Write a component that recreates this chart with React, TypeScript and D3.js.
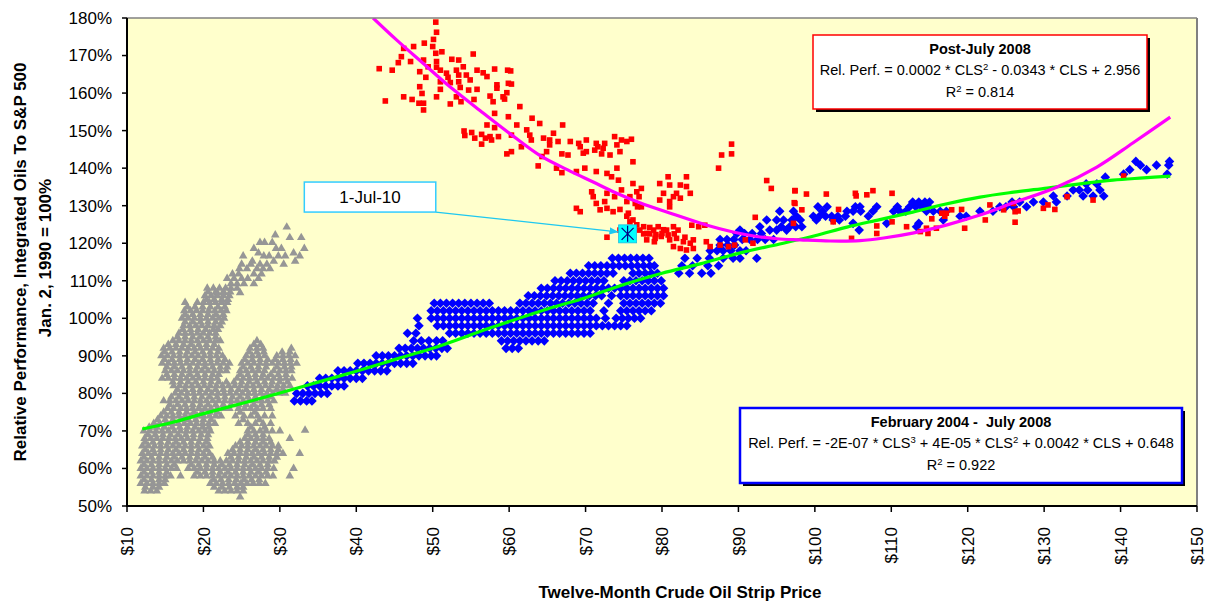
import React from "react";
import * as d3 from "d3";

const W = 1207;
const H = 602;
const M = { left: 127, right: 1197, top: 18, bottom: 506 };

const xTicks = [10, 20, 30, 40, 50, 60, 70, 80, 90, 100, 110, 120, 130, 140, 150];
const yTicks = [50, 60, 70, 80, 90, 100, 110, 120, 130, 140, 150, 160, 170, 180];

// pre-2004 cloud, rows of [rel. perf %, strip price, strip price, ...]
const grayRows: number[][] = [
  [124.3, 30.9],
  [122.2, 29.4],
  [121.5, 31.3, 32.8],
  [120.2, 27.4, 28.0, 29.0],
  [118.6, 26.6, 29.5, 30.2, 33.2],
  [117.4, 27.2, 31.8],
  [116.6, 25.2, 27.9, 28.6, 29.8, 30.7, 32.6],
  [115.2, 26.4, 29.2, 32.0],
  [114.4, 25.0, 26.2, 27.4, 28.3, 30.5],
  [113.2, 24.7, 25.7, 27.0, 27.8, 28.7],
  [111.8, 23.8, 24.6, 26.6, 27.6],
  [110.6, 23.1, 24.0, 25.0, 25.8, 27.2],
  [109.2, 23.6, 24.4, 25.3, 26.6],
  [108.0, 20.5, 21.3, 22.1, 22.9, 23.6, 24.4],
  [107, 20.6, 21.6, 22.6, 23.5],
  [106.8, 21.8, 22.7, 24.8],
  [106.0, 20.2, 21.0, 21.8, 22.6, 23.4],
  [105, 20.4, 21.4, 22.4, 23.2],
  [104.2, 17.6, 19.2, 20.0, 20.8, 21.6, 22.4, 23.1],
  [103, 17.9, 18.9, 19.9, 20.9, 21.9, 22.8],
  [102, 17.5, 18.3, 19.1, 19.9, 20.7, 21.5, 22.3, 23.0],
  [101, 17.6, 18.6, 19.6, 20.6, 21.6, 22.6],
  [100, 17.2, 18.0, 18.8, 19.6, 20.4, 21.2, 22.0, 22.7],
  [99, 17.6, 18.6, 19.6, 20.6, 21.6, 22.4],
  [98, 17.4, 18.2, 19.0, 19.8, 20.6, 21.4, 22.2],
  [97, 17.3, 18.3, 19.3, 20.3, 21.3, 21.9],
  [96, 16.8, 17.6, 18.4, 19.2, 20.0, 20.8, 21.6],
  [95, 16.6, 17.6, 18.6, 19.6, 20.6, 21.6],
  [94, 16.0, 16.8, 17.6, 18.4, 19.2, 20.0, 20.8, 21.6, 22.2, 27.0],
  [93, 15.4, 16.4, 17.4, 18.4, 19.4, 20.4, 21.4, 26.6, 27.5],
  [92, 14.8, 15.6, 16.4, 17.2, 18.0, 18.8, 19.6, 20.4, 21.2, 22.0, 26.1, 27.0, 27.8, 31.5],
  [91, 14.9, 15.9, 16.9, 17.9, 18.9, 19.9, 20.9, 21.9, 26.0, 27.0, 27.9, 30.3, 31.3],
  [90, 14.5, 15.3, 16.1, 16.9, 17.7, 18.5, 19.3, 20.1, 20.9, 21.7, 22.5, 25.6, 26.4, 27.2, 28.0, 29.6, 30.4, 31.2, 32.0],
  [89, 14.9, 15.9, 16.9, 17.9, 18.9, 19.9, 20.9, 21.9, 22.8, 25.4, 26.4, 27.4, 28.4, 29.4, 30.4, 31.4],
  [88, 14.6, 15.4, 16.2, 17.0, 17.8, 18.6, 19.4, 20.2, 21.0, 21.8, 22.6, 23.4, 25.0, 25.8, 26.6, 27.4, 28.2, 29.0, 29.8, 30.6, 31.4, 32.2],
  [87, 15.2, 16.2, 17.2, 18.2, 19.2, 20.2, 21.2, 22.2, 23.1, 25.2, 26.2, 27.2, 28.2, 29.6, 30.6, 31.5],
  [86, 15.0, 15.8, 16.6, 17.4, 18.2, 19.0, 19.8, 20.6, 21.4, 22.2, 23.0, 24.8, 25.6, 26.4, 27.2, 28.0, 29.2, 30.0, 30.8, 31.5],
  [85, 15.2, 16.2, 17.2, 18.2, 19.2, 20.2, 21.2, 22.0, 24.8, 25.8, 26.8, 27.8, 28.8, 29.8, 30.8],
  [84, 14.6, 15.4, 16.2, 17.0, 17.8, 18.6, 19.4, 20.2, 21.0, 21.8, 24.4, 25.2, 26.0, 26.8, 27.6, 28.4, 29.2, 30.0, 30.8, 31.6],
  [83, 16.0, 17.0, 18.0, 19.0, 20.0, 21.0, 22.0, 23.0, 24.0, 25.0, 26.0, 27.0, 28.0, 29.0, 30.0, 31.0],
  [82, 16.1, 16.9, 17.7, 18.5, 19.3, 20.1, 20.9, 21.7, 22.5, 23.3, 24.1, 24.9, 25.7, 26.5, 27.3, 28.1, 28.9, 29.7, 30.5, 31.3],
  [81, 16.6, 17.6, 18.6, 19.6, 20.6, 21.6, 22.6, 23.6, 24.6, 25.6, 26.6, 27.6, 28.6, 29.6, 30.4],
  [80, 16.3, 17.1, 17.9, 18.7, 19.5, 20.3, 21.1, 21.9, 22.7, 23.5, 24.3, 25.1, 25.9, 26.7, 27.5, 28.3, 29.1, 29.9, 30.7],
  [79, 15.8, 16.8, 17.8, 18.8, 19.8, 20.8, 21.8, 22.8, 23.8, 24.8, 25.8, 26.8, 27.8, 28.8],
  [78, 14.8, 15.6, 16.4, 17.2, 18.0, 18.8, 19.6, 20.4, 21.2, 22.0, 22.8, 23.6, 24.4, 25.2, 26.0, 26.8, 27.6, 28.4, 29.2],
  [77, 15.6, 16.6, 17.6, 18.6, 19.6, 20.6, 21.6, 22.6, 23.6, 24.6, 25.6, 26.6, 27.6, 28.6],
  [76, 15.3, 16.1, 17.0, 17.8, 18.6, 19.4, 20.2, 21.0, 21.8, 22.6, 23.4, 24.6, 25.4, 26.2, 27.0, 27.8, 28.8],
  [75, 14.8, 15.8, 16.8, 17.8, 18.8, 19.8, 20.8, 21.8, 24.8, 26.7],
  [74, 14.4, 15.2, 16.0, 16.8, 17.6, 18.4, 19.2, 20.0, 20.8, 21.6, 22.3, 24.2, 25.3, 26.2, 27.1, 28.0, 29.0],
  [73, 14.0, 15.0, 16.0, 17.0, 18.0, 19.0, 20.0, 21.0, 25.2, 27.3],
  [72, 13.5, 14.3, 15.1, 15.9, 16.7, 17.5, 18.3, 19.1, 19.9, 20.7, 21.5, 24.6, 25.8, 26.8, 27.8, 28.8],
  [71, 12.9, 13.9, 14.9, 15.9, 16.9, 17.9, 18.9, 19.9, 20.7, 26.2, 28.0],
  [70.2, 33.3],
  [70, 12.2, 13.0, 13.8, 14.6, 15.4, 16.2, 17.0, 17.8, 18.6, 19.4, 20.2, 20.9, 25.8, 26.6, 27.4, 28.2, 29.0, 30.0],
  [69, 12.7, 13.7, 14.7, 15.7, 16.7, 17.7, 18.7, 19.7, 20.6, 25.8, 26.8, 27.8],
  [68, 12.3, 13.1, 13.9, 14.7, 15.5, 16.3, 17.1, 17.9, 18.7, 19.6, 20.5, 25.4, 26.2, 27.0, 27.8, 28.6, 31.3],
  [67, 12.4, 13.4, 14.4, 15.4, 16.4, 17.4, 18.4, 19.4, 20.4, 24.8, 25.8, 26.8, 27.8, 28.8],
  [66, 12.0, 12.8, 13.6, 14.4, 15.2, 16.0, 16.8, 17.6, 18.4, 19.2, 20.0, 20.8, 24.2, 25.0, 25.8, 26.6, 27.4, 28.2, 29.0, 29.8],
  [65, 12.4, 13.4, 14.4, 15.4, 16.4, 17.4, 18.4, 19.4, 20.4, 23.8, 24.8, 25.8, 26.8, 27.8, 28.8, 29.8],
  [64, 12.0, 12.8, 13.6, 14.4, 15.2, 16.0, 16.8, 17.6, 18.4, 19.2, 20.0, 20.8, 23.2, 24.0, 24.8, 25.6, 26.4, 27.2, 28.0, 28.8, 29.6, 30.4, 32.6],
  [63, 12.2, 13.2, 14.2, 15.2, 16.2, 17.2, 18.2, 19.2, 20.2, 21.2, 23.6, 24.6, 25.6, 26.6, 27.6, 28.6, 29.6],
  [62, 11.8, 12.6, 13.4, 14.2, 15.0, 15.8, 16.6, 17.4, 18.2, 19.0, 19.8, 20.6, 21.4, 22.2, 23.0, 23.8, 24.6, 25.4, 26.2, 27.0, 27.8, 28.6, 29.3],
  [61, 12.2, 13.2, 14.2, 15.2, 16.2, 18.4, 19.4, 20.4, 21.4, 22.4, 23.4, 24.4, 25.4, 26.4, 27.4, 28.4],
  [60, 11.8, 12.6, 13.4, 14.2, 15.0, 15.8, 16.5, 18.0, 18.8, 19.6, 20.4, 21.2, 22.0, 22.8, 23.6, 24.4, 25.2, 26.0, 26.8, 27.6, 28.4, 29.2, 31.8],
  [59, 12.2, 13.2, 14.2, 15.2, 19.2, 20.2, 21.2, 22.2, 23.2, 24.2, 25.2, 26.2, 27.2, 28.2],
  [58, 11.8, 12.6, 13.4, 14.2, 15.0, 15.7, 17.0, 18.8, 19.6, 20.4, 21.2, 22.0, 22.8, 23.6, 24.4, 25.2, 26.0, 26.8, 27.6, 28.4, 29.1, 31.3],
  [57, 12.2, 13.2, 14.2, 15.0, 21.3, 22.3, 23.3, 24.3, 25.3, 26.3, 27.3],
  [56, 11.8, 12.6, 13.4, 14.2, 14.9, 20.9, 21.7, 22.5, 23.3, 24.1, 24.9, 25.7, 26.5, 27.3, 28.1],
  [55, 12.4, 13.4, 14.2, 21.4, 22.4, 23.4, 24.4, 25.2],
  [54, 12.3, 13.1, 13.9, 22.0, 22.8, 23.6, 24.4, 25.2],
  [52.4, 24.8],
];

// February 2004 - July 2008
const blueRows: number[][] = [
  [78, 31.9, 32.7, 33.5, 34.2],
  [80, 32.2, 33.0, 33.8, 34.6, 35.4, 36.2],
  [82, 33.6, 34.4, 35.2, 36.0, 36.8, 37.6, 38.4],
  [84, 35.2, 36.0, 36.8, 37.6, 38.4, 39.2, 40.0, 40.8],
  [86, 37.6, 38.4, 39.2, 40.0, 40.8, 41.6, 42.4, 43.2, 44.0],
  [88, 40.2, 41.0, 41.8, 42.6, 43.4, 44.2, 45.0, 45.8, 46.6, 47.4],
  [90, 42.6, 43.4, 44.2, 45.0, 45.8, 46.6, 47.4, 48.2, 49.0, 49.8, 50.5],
  [92, 45.6, 46.4, 47.2, 48.0, 48.8, 49.6, 50.4, 51.2, 51.9, 59.6, 60.4, 61.2],
  [94, 47.5, 48.5, 49.5, 50.5, 51.3, 59.0, 59.8, 60.6, 61.4, 62.2, 63.0, 63.8, 64.6],
  [96, 46.7, 47.8, 52.2, 53.0, 53.8, 54.6, 55.4, 56.2, 57.0, 57.8, 58.6, 59.4, 60.2, 61.0, 61.8, 62.6, 63.4, 64.2, 65.0, 65.8, 66.6, 67.4, 68.2, 69.0, 69.8, 70.6],
  [98, 48.2, 50.6, 51.4, 52.2, 53.0, 53.8, 54.6, 55.4, 56.2, 57.0, 57.8, 58.6, 59.4, 60.2, 61.0, 61.8, 62.6, 63.4, 64.2, 65.0, 65.8, 66.6, 67.4, 68.2, 69.0, 69.8, 70.6, 71.4, 72.2, 73.0, 73.8, 74.6, 75.4],
  [100, 48.0, 49.8, 50.6, 51.4, 52.2, 53.0, 53.8, 54.6, 55.4, 56.2, 57.0, 57.8, 58.6, 59.4, 60.2, 61.0, 61.8, 62.6, 63.4, 64.2, 65.0, 65.8, 66.6, 67.4, 68.2, 69.0, 69.8, 70.6, 71.4, 72.6, 74.0, 74.8, 75.6, 76.4, 77.2],
  [102, 49.8, 50.6, 51.4, 52.2, 53.0, 53.8, 54.6, 55.4, 56.2, 57.0, 57.8, 58.6, 59.4, 60.2, 61.0, 61.8, 62.6, 63.4, 64.2, 65.0, 65.8, 66.6, 67.4, 68.2, 69.0, 69.8, 70.6, 72.4, 74.6, 75.4, 76.2, 77.0, 77.8, 78.6],
  [104, 50.2, 51.0, 51.8, 52.6, 53.4, 54.2, 55.0, 55.8, 56.6, 57.4, 61.4, 62.2, 63.0, 63.8, 64.6, 65.4, 66.2, 67.0, 67.8, 68.6, 69.4, 70.2, 71.0, 73.0, 75.0, 75.8, 76.6, 77.4, 78.2, 79.0, 79.8],
  [106, 62.5, 63.3, 64.1, 64.9, 65.7, 66.5, 67.3, 68.1, 68.9, 69.7, 70.5, 71.3, 72.1, 73.4, 74.6, 75.4, 76.2, 77.0, 77.8, 78.6, 79.4, 80.2],
  [108, 64.2, 65.0, 65.8, 66.6, 67.4, 68.2, 69.0, 69.8, 70.6, 71.4, 72.2, 73.0, 73.8, 74.6, 75.4, 76.2, 77.0, 77.8, 78.6, 79.4, 80.2],
  [110, 66.0, 66.8, 67.6, 68.4, 69.2, 70.0, 70.8, 71.6, 72.4, 75.0, 75.8, 76.6, 77.4, 78.2, 79.0, 79.9],
  [112, 68.0, 68.8, 69.6, 70.4, 71.2, 72.0, 72.8, 73.6, 76.2, 77.0, 77.8, 78.6, 79.4, 82.2, 83.6, 85.2, 86.4],
  [114, 70.4, 71.2, 72.0, 72.8, 73.6, 74.4, 75.2, 76.0, 76.8, 77.6, 78.4, 79.0, 82.6, 84.0, 86.0, 87.4],
  [116, 73.5, 74.3, 75.1, 75.9, 76.7, 77.5, 78.3, 83.0, 84.6, 86.2, 88.0, 89.3, 90.2, 92.4],
  [118, 86.3, 87.2, 88.0, 89.0, 90.2, 91.0],
  [119.5, 87.6, 88.6, 89.5],
  [121, 87.6, 88.5, 89.4, 90.5, 91.5, 92.5, 93.5, 94.6],
  [122.6, 89.8, 90.8, 91.8, 93.0],
  [123.5, 90.2, 94.1, 95.0, 96.3, 105.8],
  [124.4, 92.8, 95.6, 96.7, 97.5, 98.3, 113.3],
  [125.3, 105.0, 109.4, 113.6],
  [126.2, 93.7, 95.0, 95.9, 97.0, 98.1, 100.2, 102.4, 103.2, 116.8],
  [127.2, 97.6, 99.8, 100.6, 101.4, 102.2, 103.0, 104.0, 107.0, 119.0, 119.8],
  [128.5, 95.4, 97.2, 101.0, 104.2, 105.0, 106.0, 107.6, 110.3, 111.1, 111.9, 114.6, 115.5, 116.4, 117.2, 121.6, 123.3],
  [129.7, 100.4, 101.6, 105.3, 105.9, 108.1, 110.8, 112.4, 113.2, 114.0, 114.8, 124.2, 125.0, 126.0, 127.7],
  [131, 112.8, 113.6, 114.4, 115.0, 125.8, 126.8, 128.6, 129.9, 131.6],
  [132.6, 131.2, 133.0, 135.1, 136.4, 137.8],
  [134.2, 133.8, 134.6, 135.7, 137.3],
  [135.8, 135.5, 136.9],
  [137.6, 138.0],
  [138.4, 140.4, 146.1],
  [139.6, 141.2, 143.4],
  [140.8, 142.6, 144.7, 146.3],
  [141.8, 142.0, 146.4],
];

// post-July 2008, [strip price, rel. perf %]
const redPts: number[][] = [
  [50.4, 178.9], [50.5, 176.2], [50.1, 174.3], [48.9, 173.3], [50.0, 172.4], [47.5, 172.4], [46.2, 171.9],
  [51.2, 171.0], [50.4, 170.6], [55.3, 170.4], [45.9, 169.7], [45.5, 168.1], [47.1, 168.4], [48.8, 168.8],
  [50.5, 168.4], [52.5, 169.0], [53.4, 168.8], [43.0, 166.5], [44.7, 166.1], [49.4, 167.0], [50.5, 166.9],
  [51.0, 166.1], [53.1, 166.1], [54.0, 167.0], [55.8, 166.1], [56.6, 165.4], [58.1, 166.4], [59.8, 166.1],
  [60.2, 165.9], [48.3, 165.7], [51.8, 165.3], [53.4, 164.8], [54.4, 164.8], [57.1, 164.4], [49.1, 164.2],
  [52.0, 164.2], [54.9, 163.5], [59.9, 162.6], [60.3, 162.4], [51.0, 163.0], [52.3, 162.8], [53.4, 163.0],
  [48.3, 161.7], [58.4, 162.2], [58.4, 161.3], [51.0, 161.0], [53.6, 161.5], [55.8, 161.0], [59.7, 160.1],
  [54.7, 160.8], [48.6, 159.9], [46.2, 159.0], [50.5, 159.0], [53.1, 159.0], [57.5, 159.2], [59.2, 159.0],
  [43.8, 157.9], [47.3, 158.3], [48.2, 157.3], [48.8, 157.3], [52.3, 157.1], [53.7, 157.7], [55.4, 158.3],
  [57.9, 157.7], [59.4, 158.4], [48.8, 155.5], [61.4, 156.4], [58.1, 154.6], [59.9, 153.7], [63.0, 153.3],
  [57.1, 151.5], [58.1, 150.8], [61.0, 151.5], [64.0, 151.9], [67.0, 151.5], [54.1, 149.9], [55.1, 149.5],
  [56.4, 149.0], [57.5, 148.4], [58.6, 148.4], [60.3, 148.8], [62.3, 150.2], [65.8, 149.3], [54.2, 148.7],
  [55.5, 148.0], [56.9, 148.0], [57.7, 147.5], [56.4, 146.4], [62.7, 148.8], [62.9, 147.5], [64.5, 148.0],
  [65.3, 147.5], [66.4, 147.1], [68.0, 147.1], [69.1, 146.6], [70.1, 147.5], [71.4, 146.6], [72.5, 146.6],
  [73.8, 148.4], [74.7, 147.5], [76.0, 147.7], [61.6, 145.7], [65.3, 146.2], [69.3, 145.7], [71.6, 145.7],
  [72.3, 145.3], [74.1, 146.2], [75.4, 147.1], [60.3, 144.4], [59.7, 143.8], [64.3, 143.1], [66.9, 143.8],
  [67.7, 143.5], [70.1, 144.4], [71.2, 144.8], [72.1, 143.8], [73.2, 143.5], [74.5, 144.4], [64.9, 144.4],
  [69.7, 144.0], [63.8, 140.6], [66.2, 140.0], [66.9, 138.8], [68.8, 139.1], [69.9, 140.0], [71.4, 139.1],
  [72.8, 138.6], [73.4, 137.7], [74.1, 140.0], [76.2, 141.7], [74.3, 136.8], [70.8, 133.7], [71.0, 132.4],
  [72.8, 133.3], [73.8, 132.4], [72.5, 131.1], [71.4, 130.6], [74.7, 134.2], [76.2, 135.9], [77.3, 134.6],
  [76.7, 133.7], [75.8, 132.4], [75.4, 131.1], [76.5, 130.6], [77.0, 132.4], [68.8, 129.3], [69.3, 128.4],
  [71.9, 128.9], [72.8, 129.3], [73.6, 128.4], [74.5, 129.0], [75.6, 128.0], [76.8, 129.7], [79.7, 135.9],
  [80.8, 137.7], [81.0, 135.5], [82.4, 135.5], [83.2, 137.7], [83.2, 135.1], [83.7, 133.3], [80.2, 133.3],
  [81.5, 132.4], [82.4, 132.0], [79.7, 131.5], [81.0, 131.1], [81.9, 133.3], [81.0, 129.7], [77.3, 129.7],
  [87.4, 140.0], [87.8, 143.5], [89.1, 143.8], [89.1, 146.4], [93.7, 136.7], [94.3, 134.6], [97.4, 134.0],
  [97.4, 130.6], [92.2, 126.9], [97.2, 125.3], [74.5, 123.5], [72.8, 121.6], [75.8, 125.7], [76.7, 124.9],
  [77.1, 123.5], [78.0, 122.6], [78.9, 123.5], [79.5, 124.4], [80.6, 123.5], [81.5, 124.4], [82.1, 123.5],
  [78.0, 120.9], [79.1, 121.3], [79.9, 121.8], [81.0, 120.9], [81.9, 121.3], [82.8, 120.4], [83.7, 120.0],
  [84.1, 120.9], [81.5, 119.1], [82.4, 118.6], [83.2, 118.2], [84.1, 118.6], [85.8, 120.4], [86.3, 119.1],
  [87.6, 119.5], [88.7, 119.1], [89.5, 119.5], [90.9, 120.9], [91.9, 120.0], [83.9, 124.8], [84.8, 124.4],
  [85.6, 124.8], [76.2, 126.2], [75.4, 127.2], [77.6, 122.5], [78.4, 122.5], [79.2, 122.3], [80.0, 122.6],
  [80.8, 122.2], [81.6, 122.5], [77.6, 124.4], [78.4, 124.2], [80.2, 123.6], [83.0, 121.6], [79.0, 120.4],
  [97.4, 134.0], [98.9, 133.1], [97.3, 130.8], [98.3, 128.9], [101.5, 133.1], [103.1, 129.0], [105.3, 133.3],
  [105.4, 132.6], [106.8, 132.9], [107.6, 134.0], [110.1, 133.3], [102.4, 125.7], [104.8, 121.3], [108.1, 124.6],
  [108.1, 122.6], [110.1, 125.7], [112.0, 124.4], [113.8, 123.1], [114.8, 122.6], [115.3, 126.5], [115.9, 124.0],
  [116.6, 128.0], [117.2, 128.0], [117.0, 127.2], [117.9, 128.9], [119.2, 129.0], [119.6, 124.0], [122.9, 130.2],
  [122.3, 126.2], [124.7, 128.9], [126.2, 128.4], [126.6, 128.6], [126.0, 130.6], [126.2, 125.6], [129.9, 129.3],
  [130.5, 130.2], [131.4, 129.0], [133.0, 132.4], [136.4, 131.5], [140.4, 137.9], [114.6, 124.0],
];

// fitted curves as drawn, [strip price, rel. perf %]
const postFit: number[][] = [
  [42.2, 180], [45.3, 174.1], [48.7, 168], [52.3, 161.6], [56.6, 154.7], [60.1, 149.2], [64, 143.4],
  [67.6, 139.6], [71, 136.3], [74, 133.4], [77.1, 130.8], [81.4, 127.8], [85.9, 124.8], [89.3, 123],
  [92.4, 121.8], [95, 121.2], [98.1, 120.9], [102, 120.6], [105.9, 120.7], [109, 121.4], [112.8, 122.7],
  [117.3, 124.9], [121.6, 127.5], [125.9, 130.7], [131.7, 135], [136.9, 140.3], [141.6, 146.7], [146.5, 153.6],
];
const preFit: number[][] = [
  [12, 70.5], [16, 72.3], [20, 74.6], [25, 77.3], [30, 80.1], [35, 83], [40, 85.9], [45, 89], [50, 92],
  [57.5, 97.4], [65, 102.5], [70, 105.5], [75, 109], [80, 112], [85, 114.5], [90, 117.3], [95.4, 119.8],
  [100, 122], [104.2, 124.3], [108.5, 126.3], [112.8, 128.3], [117, 130.4], [121.6, 132.3], [126, 133.6],
  [130.4, 134.7], [135, 135.9], [139, 136.8], [143, 137.4], [146.5, 137.9],
];

const markerPt = [75.5, 122.5];
const markerLabel = "1-Jul-10";

const FONT = "'Liberation Sans', Arial, Helvetica, sans-serif";

const x = d3.scaleLinear().domain([10, 150]).range([M.left, M.right]);
const y = d3.scaleLinear().domain([50, 180]).range([M.bottom, M.top]);

const rowsToPts = (rows: number[][]) =>
  rows.flatMap(([v, ...xs]) => xs.map((p) => [p, v]));

const triPath = d3.symbol(d3.symbolTriangle, 32)() as string;
const diaPath = "M0,-4.8L4.8,0L0,4.8L-4.8,0Z";

const line = d3
  .line<number[]>()
  .x((d) => x(d[0]))
  .y((d) => y(d[1]))
  .curve(d3.curveCatmullRom);

function FitBox(props: {
  x0: number; y0: number; w: number; h: number; stroke: string; sw: number;
  title: string; children: React.ReactNode; r2: string;
}) {
  const { x0, y0, w, h, stroke, sw, title, r2 } = props;
  const cx = x0 + w / 2;
  return (
    <g fontFamily={FONT} fontSize={14.5} textAnchor="middle">
      <rect x={x0 + 3} y={y0 + 3} width={w} height={h} fill="#000" />
      <rect x={x0} y={y0} width={w} height={h} fill="#fff" stroke={stroke} strokeWidth={sw} />
      <text x={cx} y={y0 + 19} fontWeight="bold" style={{ whiteSpace: "pre" }}>{title}</text>
      <text x={cx} y={y0 + 40}>{props.children}</text>
      <text x={cx} y={y0 + 62}>
        R<tspan dy={-5} fontSize={9.5}>2</tspan>
        <tspan dy={5}>{" = " + r2}</tspan>
      </text>
    </g>
  );
}

export default function App() {
  const gray = rowsToPts(grayRows);
  const blue = rowsToPts(blueRows);
  const mx = x(markerPt[0]);
  const my = y(markerPt[1]);

  // callout box placed in data space
  const bx0 = x(33.2), bx1 = x(50.4), by0 = y(136.3), by1 = y(128.3);

  return (
    <svg
      width={W}
      height={H}
      style={{ position: "absolute", left: 0, top: 0, background: "#fff" }}
    >
      <defs>
        <clipPath id="plotClip">
          <rect x={M.left} y={M.top} width={M.right - M.left} height={M.bottom - M.top} />
        </clipPath>
        <marker id="arr" viewBox="0 0 10 10" refX="9" refY="5" markerWidth="7" markerHeight="7" orient="auto">
          <path d="M0,1L10,5L0,9Z" fill="#1ec8f0" />
        </marker>
      </defs>

      <rect x={M.left} y={M.top} width={M.right - M.left} height={M.bottom - M.top} fill="#ffffcc" />

      <g clipPath="url(#plotClip)">
        <g fill="#969696">
          {gray.map((d, i) => (
            <path key={i} d={triPath} transform={`translate(${x(d[0])},${y(d[1])})`} />
          ))}
        </g>
        <g fill="#0000ff">
          {blue.map((d, i) => (
            <path key={i} d={diaPath} transform={`translate(${x(d[0])},${y(d[1])})`} />
          ))}
        </g>
        <g fill="#ff0000">
          {redPts.map((d, i) => (
            <rect key={i} x={x(d[0]) - 2.8} y={y(d[1]) - 2.8} width={5.6} height={5.6} />
          ))}
        </g>
        <path d={line(preFit) as string} fill="none" stroke="#00ff00" strokeWidth={3.2} />
        <path d={line(postFit) as string} fill="none" stroke="#ff00ff" strokeWidth={3.2} />
      </g>

      {/* frame */}
      <line x1={M.left} x2={M.right} y1={M.top} y2={M.top} stroke="#808080" strokeWidth={1.5} />
      <line x1={M.right} x2={M.right} y1={M.top} y2={M.bottom} stroke="#808080" strokeWidth={2} />
      <line x1={M.left} x2={M.left} y1={M.top} y2={M.bottom + 1} stroke="#000" strokeWidth={2} />
      <line x1={M.left - 1} x2={M.right} y1={M.bottom} y2={M.bottom} stroke="#000" strokeWidth={2} />

      {/* y axis */}
      <g fontFamily={FONT} fontSize={17}>
        {yTicks.map((t) => (
          <g key={t}>
            <line x1={M.left - 5} x2={M.left} y1={y(t)} y2={y(t)} stroke="#000" strokeWidth={1.5} />
            <text x={M.left - 15} y={y(t)} dy="0.35em" textAnchor="end">{t}%</text>
          </g>
        ))}
      </g>

      {/* x axis */}
      <g fontFamily={FONT} fontSize={17}>
        {xTicks.map((t) => (
          <g key={t}>
            <line x1={x(t)} x2={x(t)} y1={M.bottom} y2={M.bottom + 6} stroke="#000" strokeWidth={1.5} />
            <text
              transform={`translate(${x(t)},${M.bottom + 21}) rotate(-90)`}
              dy="0.36em"
              textAnchor="end"
            >
              ${t}
            </text>
          </g>
        ))}
      </g>

      <text x={680} y={592} dy="0.35em" textAnchor="middle" fontFamily={FONT} fontWeight="bold" fontSize={17}>
        Twelve-Month Crude Oil Strip Price
      </text>
      <g fontFamily={FONT} fontWeight="bold" fontSize={17} textAnchor="middle">
        <text transform="translate(20,262) rotate(-90)" dy="0.35em">
          Relative Performance, Integrated Oils To S&amp;P 500
        </text>
        <text transform="translate(45,258) rotate(-90)" dy="0.35em">
          Jan. 2, 1990 = 100%
        </text>
      </g>

      {/* 1-Jul-10 callout */}
      <line x1={bx1} y1={by1} x2={mx - 10} y2={my - 2} stroke="#1ec8f0" strokeWidth={1.3} markerEnd="url(#arr)" />
      <rect x={bx0} y={by0} width={bx1 - bx0} height={by1 - by0} fill="#fff" stroke="#33ccff" strokeWidth={1.5} />
      <text x={(bx0 + bx1) / 2} y={(by0 + by1) / 2} dy="0.36em" textAnchor="middle" fontFamily={FONT} fontSize={17}>
        {markerLabel}
      </text>
      <g transform={`translate(${mx},${my})`}>
        <rect x={-9} y={-9} width={18} height={18} fill="#00ffff" stroke="#22bbdd" strokeWidth={0.8} />
        <path d="M-6,-6L6,6M-6,6L6,-6M0,-8V8" stroke="#000080" strokeWidth={1.2} />
      </g>

      <FitBox x0={813} y0={35} w={334} h={74} stroke="#ff0000" sw={1.5} title="Post-July 2008" r2="0.814">
        {"Rel. Perf. = 0.0002 * CLS"}
        <tspan dy={-5} fontSize={9.5}>2</tspan>
        <tspan dy={5}>{" - 0.0343 * CLS + 2.956"}</tspan>
      </FitBox>
      <FitBox x0={740} y0={408} w={442} h={75} stroke="#0000ff" sw={2.5} title={"February 2004 -  July 2008"} r2="0.922">
        {"Rel. Perf. = -2E-07 * CLS"}
        <tspan dy={-5} fontSize={9.5}>3</tspan>
        <tspan dy={5}>{" + 4E-05 * CLS"}</tspan>
        <tspan dy={-5} fontSize={9.5}>2</tspan>
        <tspan dy={5}>{" + 0.0042 * CLS + 0.648"}</tspan>
      </FitBox>
    </svg>
  );
}
